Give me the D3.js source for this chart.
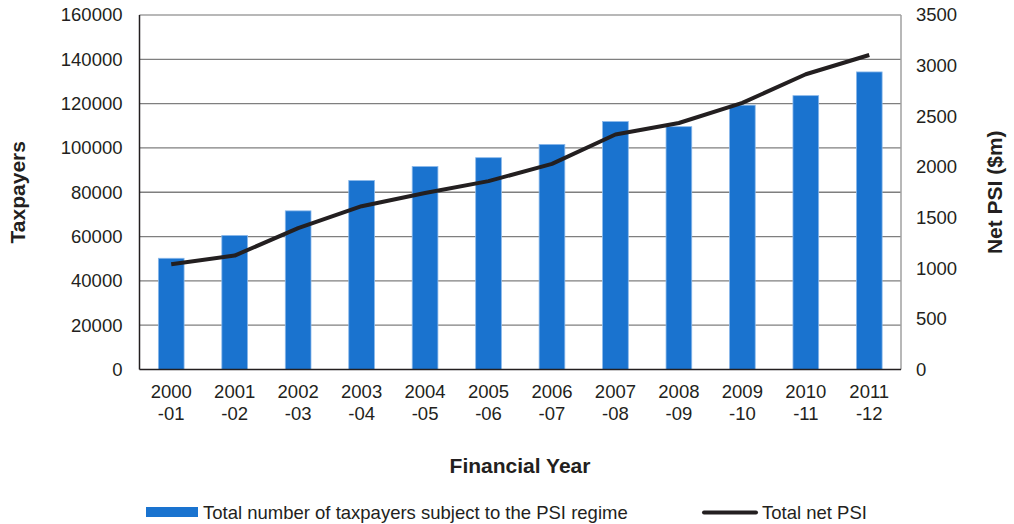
<!DOCTYPE html>
<html><head><meta charset="utf-8">
<script src="https://cdn.jsdelivr.net/npm/d3@7"></script>
<style>body{margin:0;background:#fff}svg{display:block;font-family:"Liberation Sans",Arial,sans-serif}</style>
</head><body><svg id="c" width="1014" height="524"></svg>
<script>
const years = ["2000-01","2001-02","2002-03","2003-04","2004-05","2005-06","2006-07","2007-08","2008-09","2009-10","2010-11","2011-12"];
const taxpayers = [50200,60500,71600,85300,91600,95600,101600,111900,109600,119300,123600,134300];
const netPSI = [1040,1125,1395,1612,1742,1860,2030,2320,2434,2632,2915,3105];
const leftTicks = [0,20000,40000,60000,80000,100000,120000,140000,160000];
const rightTicks = [0,500,1000,1500,2000,2500,3000,3500];

const svg = d3.select("#c");
const L = 139.5, R = 901, T = 15, B = 369.5;
const txt = "#231f20";
const fs = "18.5px", tfs = "21px";
const x = d3.scaleBand().domain(years).range([L, R]).paddingInner(0.595).paddingOuter(0.2975);
const yL = d3.scaleLinear().domain([0,160000]).range([B, T]);
const yR = d3.scaleLinear().domain([0,3500]).range([B, T]);

svg.append("g").selectAll("line").data(leftTicks.filter(d=>d>0)).join("line")
  .attr("x1", L).attr("x2", R).attr("y1", d=>yL(d)).attr("y2", d=>yL(d))
  .attr("stroke", d=>d===160000?"#a0a0a0":"#7f7f7f").attr("stroke-width", 1.3);
svg.append("line").attr("x1",R).attr("x2",R).attr("y1",T).attr("y2",B).attr("stroke","#a0a0a0").attr("stroke-width",1.5);

svg.append("g").selectAll("rect").data(years).join("rect")
  .attr("x", d=>x(d)).attr("width", x.bandwidth())
  .attr("y", (d,i)=>yL(taxpayers[i])).attr("height", (d,i)=>B-yL(taxpayers[i]))
  .attr("fill", "#1a73cf").attr("stroke","#8ab8ea").attr("stroke-width",0.8);

svg.append("line").attr("x1",L).attr("x2",L).attr("y1",T).attr("y2",B).attr("stroke","#231f20").attr("stroke-width",1.5);
svg.append("line").attr("x1",L).attr("x2",R).attr("y1",B).attr("y2",B).attr("stroke","#231f20").attr("stroke-width",1.5);

const gl = svg.append("g").attr("transform",`translate(${L},0)`)
  .call(d3.axisLeft(yL).tickValues(leftTicks).tickSize(0).tickPadding(17).tickFormat(d3.format("d")));
gl.select(".domain").remove();
gl.selectAll("text").attr("fill",txt).style("font-size",fs);

const gr = svg.append("g").attr("transform",`translate(${R},0)`)
  .call(d3.axisRight(yR).tickValues(rightTicks).tickSize(0).tickPadding(15).tickFormat(d3.format("d")));
gr.select(".domain").remove();
gr.selectAll("text").attr("fill",txt).style("font-size",fs);

const gx = svg.append("g");
years.forEach(y=>{
  const [a,b] = y.split("-");
  const cx = x(y)+x.bandwidth()/2;
  const t = gx.append("text").attr("text-anchor","middle").attr("fill",txt).style("font-size",fs);
  t.append("tspan").attr("x", cx).attr("y", 398).text(a);
  t.append("tspan").attr("x", cx).attr("y", 420).text("-"+b);
});

const line = d3.line().x((d,i)=>x(years[i])+x.bandwidth()/2).y(d=>yR(d));
svg.append("path").datum(netPSI).attr("d", line).attr("fill","none")
  .attr("stroke","#231f20").attr("stroke-width",4).attr("stroke-linejoin","round");

svg.append("text").attr("transform",`translate(25,${(T+B)/2}) rotate(-90)`).attr("text-anchor","middle")
  .attr("fill",txt).style("font-size",tfs).style("font-weight","bold").text("Taxpayers");
svg.append("text").attr("transform",`translate(1002,${(T+B)/2}) rotate(-90)`).attr("text-anchor","middle")
  .attr("fill",txt).style("font-size",tfs).style("font-weight","bold").text("Net PSI ($m)");
svg.append("text").attr("x",520).attr("y",473).attr("text-anchor","middle")
  .attr("fill",txt).style("font-size",tfs).style("font-weight","bold").text("Financial Year");

svg.append("rect").attr("x",146).attr("y",507).attr("width",52).attr("height",10).attr("fill","#1a73cf");
svg.append("text").attr("x",203).attr("y",519).attr("fill",txt).style("font-size",fs).text("Total number of taxpayers subject to the PSI regime");
svg.append("line").attr("x1",704).attr("x2",756).attr("y1",512.5).attr("y2",512.5).attr("stroke","#231f20").attr("stroke-width",4).attr("stroke-linecap","round");
svg.append("text").attr("x",762).attr("y",519).attr("fill",txt).style("font-size",fs).text("Total net PSI");
</script></body></html>
